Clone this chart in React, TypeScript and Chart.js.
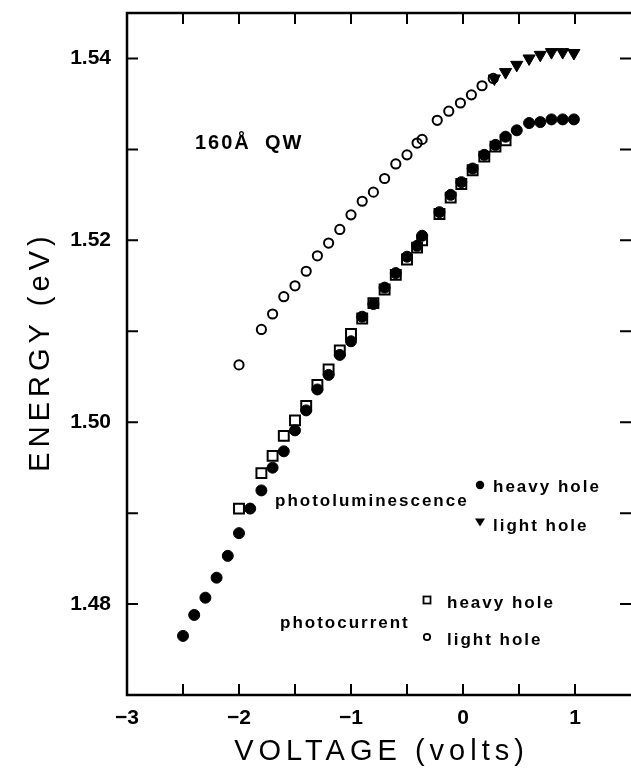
import React, { useEffect, useRef } from 'react';
import { Chart, registerables } from 'chart.js';

Chart.register(...registerables);

// Photoluminescence, heavy hole (filled circles)
const plHeavyV = [-2.5, -2.4, -2.3, -2.2, -2.1, -2.0, -1.9, -1.8, -1.7, -1.6, -1.5, -1.4, -1.3, -1.2, -1.1, -1.0, -0.9, -0.8, -0.7, -0.6, -0.5, -0.41, -0.365, -0.21, -0.11, -0.015, 0.086, 0.19, 0.29, 0.38, 0.48, 0.59, 0.69, 0.79, 0.89, 0.99];
const plHeavyE = [1.4765, 1.4788, 1.4807, 1.4829, 1.4853, 1.4878, 1.4905, 1.4925, 1.495, 1.4968, 1.4991, 1.5013, 1.5036, 1.5052, 1.5074, 1.5089, 1.5116, 1.513, 1.5148, 1.5164, 1.5182, 1.5194, 1.5205, 1.5231, 1.525, 1.5264, 1.5279, 1.5294, 1.5305, 1.5314, 1.5321, 1.5329, 1.533, 1.5333, 1.5333, 1.5333];

// Photoluminescence, light hole (filled down triangles)
const plLightV = [0.28, 0.38, 0.48, 0.59, 0.69, 0.79, 0.89, 0.99];
const plLightE = [1.5378, 1.5385, 1.5393, 1.54, 1.5404, 1.5407, 1.5407, 1.5406];

// Photocurrent, heavy hole (open squares)
const pcHeavyV = [-2.0, -1.8, -1.7, -1.6, -1.5, -1.4, -1.3, -1.2, -1.1, -1.0, -0.9, -0.8, -0.7, -0.6, -0.5, -0.41, -0.365, -0.21, -0.11, -0.015, 0.086, 0.19, 0.29, 0.38];
const pcHeavyE = [1.4905, 1.4944, 1.4963, 1.4985, 1.5002, 1.5018, 1.5041, 1.5058, 1.5079, 1.5097, 1.5114, 1.5131, 1.5146, 1.5162, 1.5179, 1.5192, 1.52, 1.5229, 1.5247, 1.5262, 1.5277, 1.5292, 1.5303, 1.531];

// Photocurrent, light hole (open circles)
const pcLightV = [-2.0, -1.8, -1.7, -1.6, -1.5, -1.4, -1.3, -1.2, -1.1, -1.0, -0.9, -0.8, -0.7, -0.6, -0.5, -0.41, -0.365, -0.23, -0.127, -0.023, 0.075, 0.17, 0.27];
const pcLightE = [1.5063, 1.5102, 1.5119, 1.5138, 1.515, 1.5166, 1.5183, 1.5197, 1.5212, 1.5228, 1.5243, 1.5253, 1.5268, 1.5284, 1.5294, 1.5307, 1.5311, 1.5332, 1.5342, 1.5351, 1.536, 1.537, 1.5378];

const xTickValues = [-3, -2, -1, 0, 1];
const xTickLabels = ['\u22123', '\u22122', '\u22121', '0', '1'];
const yTickLabels = ['1.48', '1.50', '1.52', '1.54'];

const xTitle = 'VOLTAGE (volts)';
const yTitle = 'ENERGY (eV)';
const sampleLabel = ['160\u00C5', 'QW'];
const plLabel = 'photoluminescence';
const pcLabel = 'photocurrent';
const hhLabel = 'heavy hole';
const lhLabel = 'light hole';

const FONT = '"Liberation Sans", Arial, sans-serif';

const pts = (xs: number[], ys: number[]) => xs.map((x, i) => ({ x, y: ys[i] }));

const decorPlugin = {
  id: 'decor',
  afterDatasetsDraw(chart: any) {
    const { ctx, chartArea } = chart;
    const { left, right, top, bottom } = chartArea;
    const xs = chart.scales.x;
    const ys = chart.scales.y;
    ctx.save();
    ctx.strokeStyle = '#000';
    ctx.lineCap = 'butt';
    // frame (left, top, bottom)
    ctx.lineWidth = 2.5;
    ctx.beginPath();
    ctx.moveTo(left, top);
    ctx.lineTo(right + 2, top);
    ctx.moveTo(left, top - 1.25);
    ctx.lineTo(left, bottom + 1.25);
    ctx.moveTo(left, bottom);
    ctx.lineTo(right + 2, bottom);
    ctx.stroke();
    // inward ticks
    ctx.lineWidth = 2;
    const TL = 11;
    ctx.beginPath();
    xs.ticks.forEach((t: any) => {
      const v = t.value;
      if (Math.abs(v * 2 - Math.round(v * 2)) > 1e-6) return;
      if (v <= xs.min + 1e-9 || v >= xs.max - 1e-9) return;
      const px = xs.getPixelForValue(v);
      ctx.moveTo(px, bottom);
      ctx.lineTo(px, bottom - TL);
      ctx.moveTo(px, top);
      ctx.lineTo(px, top + TL);
    });
    ys.ticks.forEach((t: any) => {
      const v = t.value;
      if (Math.abs(v * 100 - Math.round(v * 100)) > 1e-6) return;
      if (v <= ys.min + 1e-9 || v >= ys.max - 1e-9) return;
      const py = ys.getPixelForValue(v);
      ctx.moveTo(left, py);
      ctx.lineTo(left + TL, py);
      ctx.moveTo(right, py);
      ctx.lineTo(right - TL, py);
    });
    ctx.stroke();
    ctx.restore();
  },
  afterDraw(chart: any) {
    const { ctx, chartArea } = chart;
    const xs = chart.scales.x;
    ctx.save();
    ctx.fillStyle = '#000';
    ctx.strokeStyle = '#000';
    ctx.textBaseline = 'alphabetic';

    // axis titles, centred on their axes
    ctx.font = `29px ${FONT}`;
    (ctx as any).letterSpacing = '5px';
    ctx.textAlign = 'center';
    const xMid = (xs.getPixelForValue(xs.min) + xs.getPixelForValue(xs.max)) / 2 + 2.5;
    ctx.fillText(xTitle, xMid, 760);
    const yMid = (chartArea.top + chartArea.bottom) / 2 - 2.5;
    ctx.save();
    ctx.translate(49, yMid);
    ctx.rotate(-Math.PI / 2);
    ctx.fillText(yTitle, 0, 0);
    ctx.restore();

    // sample label
    ctx.textAlign = 'left';
    ctx.font = `bold 20px ${FONT}`;
    (ctx as any).letterSpacing = '2px';
    ctx.fillText(sampleLabel[0], 195, 148.5);
    ctx.fillText(sampleLabel[1], 265, 148.5);

    // legend texts
    ctx.font = `bold 17px ${FONT}`;
    (ctx as any).letterSpacing = '2px';
    ctx.fillText(plLabel, 275, 506);
    ctx.fillText(hhLabel, 493, 491.5);
    ctx.fillText(lhLabel, 493, 531);
    ctx.fillText(pcLabel, 280, 627.5);
    ctx.fillText(hhLabel, 447, 608);
    ctx.fillText(lhLabel, 447, 645);

    // legend glyphs
    ctx.beginPath();
    ctx.arc(480, 485, 4.2, 0, Math.PI * 2);
    ctx.fill();
    ctx.beginPath();
    ctx.moveTo(475, 518.5);
    ctx.lineTo(485, 518.5);
    ctx.lineTo(480, 526.5);
    ctx.closePath();
    ctx.fill();
    ctx.lineWidth = 1.8;
    ctx.strokeRect(423.5, 596.5, 7, 7);
    ctx.beginPath();
    ctx.arc(427, 637, 3.2, 0, Math.PI * 2);
    ctx.stroke();
    ctx.restore();
  },
};

const zeroPad = (s: any) => {
  s.paddingTop = 0;
  s.paddingBottom = 0;
  s.paddingLeft = 0;
  s.paddingRight = 0;
};

export default function App() {
  const ref = useRef<HTMLCanvasElement | null>(null);
  useEffect(() => {
    if (!ref.current) return;
    Chart.defaults.font.family = FONT;
    Chart.defaults.color = '#000';
    const chart = new Chart(ref.current, {
      type: 'scatter',
      data: {
        datasets: [
          {
            label: 'PL heavy hole',
            data: pts(plHeavyV, plHeavyE),
            pointStyle: 'circle',
            pointRadius: 5.5,
            pointBackgroundColor: '#000',
            pointBorderColor: '#000',
            pointBorderWidth: 1,
            showLine: false,
          },
          {
            label: 'PL light hole',
            data: pts(plLightV, plLightE),
            pointStyle: 'triangle',
            pointRotation: 180,
            pointRadius: 7,
            pointBackgroundColor: '#000',
            pointBorderColor: '#000',
            pointBorderWidth: 1,
            showLine: false,
          },
          {
            label: 'PC heavy hole',
            data: pts(pcHeavyV, pcHeavyE),
            pointStyle: 'rect',
            pointRadius: 7,
            pointBackgroundColor: 'rgba(0,0,0,0)',
            pointBorderColor: '#000',
            pointBorderWidth: 2,
            showLine: false,
          },
          {
            label: 'PC light hole',
            data: pts(pcLightV, pcLightE),
            pointStyle: 'circle',
            pointRadius: 4.6,
            pointBackgroundColor: 'rgba(0,0,0,0)',
            pointBorderColor: '#000',
            pointBorderWidth: 2,
            showLine: false,
          },
        ],
      },
      options: {
        responsive: false,
        animation: false,
        events: [],
        layout: { autoPadding: false, padding: { top: 13, left: 0, right: 0, bottom: 0 } },
        plugins: { legend: { display: false }, tooltip: { enabled: false }, title: { display: false } },
        scales: {
          x: {
            type: 'linear',
            min: -3,
            max: 1.5,
            grid: { display: false, drawTicks: false },
            border: { display: false },
            ticks: {
              stepSize: 0.5,
              autoSkip: false,
              maxRotation: 0,
              padding: 0,
              font: { size: 21, weight: 'bold', family: FONT, lineHeight: 2.25 },
              color: '#000',
              callback: (value: any) => {
                const i = xTickValues.findIndex((t) => Math.abs(t - Number(value)) < 1e-9);
                return i >= 0 ? xTickLabels[i] : '';
              },
            },
            afterFit: (s: any) => {
              s.height = 76;
              zeroPad(s);
            },
          },
          y: {
            type: 'linear',
            min: 1.47,
            max: 1.545,
            grid: { display: false, drawTicks: false },
            border: { display: false },
            ticks: {
              stepSize: 0.01,
              autoSkip: false,
              padding: 16,
              font: { size: 21, weight: 'bold', family: FONT },
              color: '#000',
              callback: (value: any) => {
                const s = Number(value).toFixed(2);
                const isStep = Math.abs(Number(value) * 100 - Math.round(Number(value) * 100)) < 1e-6;
                return isStep && yTickLabels.includes(s) ? s : '';
              },
            },
            afterFit: (s: any) => {
              s.width = 127;
              zeroPad(s);
            },
          },
        },
      },
      plugins: [decorPlugin],
    } as any);
    return () => chart.destroy();
  }, []);
  return (
    <div style={{ position: 'absolute', left: 0, top: 0, width: 631, height: 771, background: '#fff' }}>
      <canvas ref={ref} width={631} height={771} style={{ display: 'block' }} />
    </div>
  );
}
